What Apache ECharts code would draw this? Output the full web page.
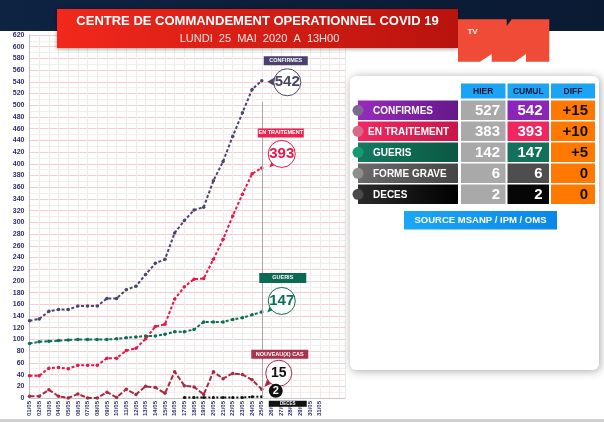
<!DOCTYPE html>
<html>
<head>
<meta charset="utf-8">
<title>COVID 19 - 25 mai 2020</title>
<script src="https://cdn.jsdelivr.net/npm/echarts@6/dist/echarts.min.js"></script>
<style>
    html, body { margin: 0; padding: 0; background: #fff; }
    #chart { width: 604px; height: 422px; }
</style>
</head>
<body>
<div id="chart"></div>
<script>
// axe des dates : 01/05 -> 31/05
const dates = [
    '01/05', '02/05', '03/05', '04/05', '05/05', '06/05', '07/05', '08/05', '09/05', '10/05',
    '11/05', '12/05', '13/05', '14/05', '15/05', '16/05', '17/05', '18/05', '19/05', '20/05',
    '21/05', '22/05', '23/05', '24/05', '25/05', '26/05', '27/05', '28/05', '29/05', '30/05', '31/05'
]

// courbes (du 01/05 au 25/05)
const confirmes = [132, 135, 148, 151, 151, 157, 157, 157, 170, 170, 185, 191, 211, 230, 237, 282, 303, 321, 326, 371, 404, 447, 487, 527, 542]
const enTraitement = [38, 38, 51, 52, 50, 56, 56, 56, 68, 68, 81, 85, 101, 122, 126, 169, 190, 203, 204, 237, 271, 311, 348, 383, 393]
const gueris = [93, 96, 97, 98, 99, 100, 100, 100, 100, 101, 103, 104, 106, 106, 109, 113, 113, 117, 130, 130, 130, 134, 137, 142, 147]
const nouveauxCas = [3, 3, 14, 3, 0, 7, 0, 0, 10, 1, 15, 6, 20, 18, 8, 45, 21, 19, 6, 45, 33, 42, 40, 31, 15]
const deces = [null, null, null, null, null, null, null, null, null, null, null, null, null, null, null, null, 1, 1, 1, 1, 1, 1, 1, 2, 2]

// tableau de droite
const tableRows = ['CONFIRMES', 'EN TRAITEMENT', 'GUERIS', 'FORME GRAVE', 'DECES']
const tableHeaders = ['HIER', 'CUMUL', 'DIFF']
const hier = [527, 383, 142, 6, 2]
const cumul = [542, 393, 147, 6, 2]

const FONT = '"Liberation Sans", Arial, sans-serif'
const NAVY = '#2d2d6b'

const toPairs = (arr) => arr.map((v, i) => (v == null ? null : [i, v])).filter(Boolean)
const lastIndex = confirmes.length - 1
const diffText = (i) => {
    const d = cumul[i] - hier[i]
    return d > 0 ? `+${d}` : `${d}`
}

/**
 * @description bulle + étiquette posées sur le dernier point d'une courbe
 */
const renderBubble = (config) => {
    const { value, color, textColor = color, name, box, bubble, tail, boxColor = color, boxSize, bubbleSize = 27, fontSize = 15 } = config
    const coord = [lastIndex, value]
    return [
        {
            coord,
            symbol: 'triangle',
            symbolSize: tail.size,
            symbolRotate: tail.rotate,
            symbolOffset: tail.offset,
            itemStyle: { color },
            label: { show: false }
        },
        {
            coord,
            symbol: 'circle',
            symbolSize: bubbleSize,
            symbolOffset: bubble,
            itemStyle: { color: '#fff', borderColor: color, borderWidth: 1 },
            label: {
                show: true, position: 'inside', formatter: `${value}`,
                color: textColor, fontSize, fontWeight: 'bold', fontFamily: FONT
            }
        },
        {
            coord,
            symbol: 'rect',
            symbolSize: boxSize,
            symbolOffset: box,
            itemStyle: { color: boxColor },
            label: {
                show: true, position: 'inside', formatter: name,
                color: '#fff', fontSize: 5.5, fontWeight: 'bold', fontFamily: FONT
            }
        }
    ]
}

const lineSeries = (name, data, color, extra = {}) => Object.assign({
    name,
    type: 'line',
    data: toPairs(data),
    symbol: 'circle',
    symbolSize: 3.5,
    showSymbol: true,
    itemStyle: { color },
    lineStyle: { color, width: 2, type: [3, 2] },
    animation: false,
    z: 3
}, extra)

// ---- tableau (graphic) ----
const labelColors = [
    ['#962bbd', '#65188a'],
    ['#f02a62', '#c8164a'],
    ['#137a5f', '#0a5843'],
    ['#6a6a6a', '#454545'],
    ['#2a2a2a', '#000000']
]
const cumulColors = ['#8b25b8', '#ef2660', '#13705a', '#4e4e4e', '#060606']
const dotColors = ['#7a6a92', '#d66a88', '#169a74', '#8e8e8e', '#4a4a4a']
const hGrad = (a, b) => new echarts.graphic.LinearGradient(0, 0, 1, 0, [
    { offset: 0, color: a }, { offset: 1, color: b }
])

const txt = (text, x, y, font, fill, align = 'center') => ({
    type: 'text',
    z: 110,
    style: {
        text, x, y, font, fill,
        textAlign: align, align,
        textVerticalAlign: 'middle', verticalAlign: 'middle'
    }
})

const buildTable = () => {
    const els = []
    // panneau
    els.push({
        type: 'rect', z: 100,
        shape: { x: 350, y: 76, width: 249, height: 294, r: 6 },
        style: { fill: '#fff', shadowBlur: 8, shadowColor: 'rgba(0,0,0,0.35)', shadowOffsetX: 1, shadowOffsetY: 1 }
    })
    const cols = [
        { x: 461, w: 44.5, right: 500 },
        { x: 507.5, w: 41.5, right: 542.5 },
        { x: 551, w: 44, right: 588 }
    ]
    tableHeaders.forEach((h, j) => {
        els.push({
            type: 'rect', z: 105,
            shape: { x: cols[j].x, y: 83.5, width: cols[j].w, height: 15 },
            style: { fill: '#1ba4f4' }
        })
        els.push(txt(h, cols[j].x + cols[j].w / 2, 91.5, `bold 8.5px ${FONT}`, '#151540'))
    })
    tableRows.forEach((row, i) => {
        const top = 100.5 + i * 21
        const mid = top + 9.8
        els.push({
            type: 'rect', z: 105,
            shape: { x: 358, y: top, width: 100, height: 19.5 },
            style: { fill: hGrad(labelColors[i][0], labelColors[i][1]) }
        })
        els.push({
            type: 'circle', z: 106,
            shape: { cx: 358, cy: mid, r: 5.5 },
            style: { fill: dotColors[i] }
        })
        els.push(txt(row, i === 1 ? 368 : 373, mid + 0.5, `bold 10px ${FONT}`, '#fff', 'left'))
        const fills = ['#a9a9a9', cumulColors[i], '#ff7800']
        const values = [`${hier[i]}`, `${cumul[i]}`, diffText(i)]
        const colors = ['#fff', '#fff', '#111']
        cols.forEach((c, j) => {
            els.push({
                type: 'rect', z: 105,
                shape: { x: c.x, y: top, width: c.w, height: 19.5 },
                style: { fill: fills[j] }
            })
            els.push(txt(values[j], c.right, mid + 0.5, `bold 15px ${FONT}`, colors[j], 'right'))
        })
    })
    // source
    els.push({
        type: 'rect', z: 105,
        shape: { x: 404, y: 211, width: 153, height: 18.5 },
        style: { fill: hGrad('#1aa8f6', '#0b86e8') }
    })
    els.push(txt('SOURCE MSANP / IPM / OMS', 480.5, 220.5, `bold 9.5px ${FONT}`, '#fff'))
    return els
}

const buildHeader = () => [
    {
        type: 'rect', z: 90,
        shape: { x: 0, y: 0, width: 604, height: 31 },
        style: { fill: hGrad('#0e2242', '#0a1a33') }
    },
    {
        type: 'rect', z: 95,
        shape: { x: 57, y: 9, width: 401, height: 39 },
        style: {
            fill: hGrad('#f2281c', '#b8130d'),
            shadowBlur: 4, shadowColor: 'rgba(0,0,0,0.4)', shadowOffsetY: 1
        }
    },
    txt('CENTRE DE COMMANDEMENT OPERATIONNEL COVID 19', 257.5, 21, `bold 13px ${FONT}`, '#fff'),
    txt('LUNDI  25  MAI  2020  A  13H00', 259.5, 38.5, `11px ${FONT}`, '#fbe3e0'),
    // logo
    {
        type: 'polygon', z: 96,
        shape: {
            points: [
                [458, 19.3], [506.7, 19.3], [506.7, 26], [511.7, 19.3], [549.3, 19.3], [549.3, 61.7],
                [526, 61.7], [526, 54], [515, 61.7], [491.7, 61.7], [491.7, 54], [480, 61.7], [458, 61.7]
            ]
        },
        style: { fill: '#ef4b37' }
    },
    txt('TV', 472.5, 31.5, `bold 8px ${FONT}`, '#fff'),
    {
        type: 'rect', z: 90,
        shape: { x: 0, y: 419, width: 604, height: 3 },
        style: { fill: '#cfcfcf' }
    }
]

const chart = echarts.init(document.getElementById('chart'))

const option = {
    backgroundColor: '#ffffff',
    animation: false,
    grid: { left: 29.5, right: 259, top: 35, bottom: 24 },
    xAxis: {
        type: 'value',
        min: 0,
        max: 32.6,
        interval: 1,
        axisLine: { show: true, lineStyle: { color: '#c8c8c8' } },
        axisTick: { show: false },
        splitLine: { show: true, lineStyle: { color: '#eeeaea', width: 1 } },
        axisLabel: {
            rotate: 90,
            margin: 3,
            fontSize: 6,
            fontWeight: 'bold',
            fontFamily: FONT,
            color: NAVY,
            showMaxLabel: false,
            formatter: (v) => dates[v] || ''
        }
    },
    yAxis: {
        type: 'value',
        min: 0,
        max: 620,
        interval: 20,
        axisLine: { show: true, lineStyle: { color: '#bdbdbd' } },
        axisTick: { show: false },
        splitLine: { lineStyle: { color: '#f5cdcd', width: 1 } },
        minorTick: { show: false, splitNumber: 2 },
        minorSplitLine: { show: true, lineStyle: { color: '#f6eded' } },
        axisLabel: {
            margin: 5,
            fontSize: 7,
            fontWeight: 'bold',
            fontFamily: FONT,
            color: NAVY
        }
    },
    series: [
        lineSeries('CONFIRMES', confirmes, '#4b4566', {
            markLine: {
                silent: true,
                symbol: 'none',
                label: { show: false },
                lineStyle: { color: '#a8a8a8', width: 1, type: 'solid' },
                data: [[{ coord: [lastIndex, 506] }, { coord: [lastIndex, 0] }]]
            },
            markPoint: {
                silent: true,
                data: renderBubble({
                    value: confirmes[lastIndex], color: '#4b4566', name: 'CONFIRMES',
                    boxColor: '#4a3f6e', boxSize: [44, 9], box: [24, -20], bubble: [25.5, 1.6],
                    tail: { size: [8, 7], rotate: 90, offset: [9, 1] }
                })
            }
        }),
        lineSeries('EN TRAITEMENT', enTraitement, '#e8174a', {
            markPoint: {
                silent: true,
                data: renderBubble({
                    value: enTraitement[lastIndex], color: '#e8174a', name: 'EN TRAITEMENT',
                    boxColor: '#e8244f', boxSize: [46, 9], box: [19, -35], bubble: [20, -14],
                    tail: { size: [6, 7], rotate: 135, offset: [10, -3] }
                })
            }
        }),
        lineSeries('GUERIS', gueris, '#0a7054', {
            markPoint: {
                silent: true,
                data: renderBubble({
                    value: gueris[lastIndex], color: '#0a7054', name: 'GUERIS',
                    boxColor: '#0c6a52', boxSize: [47, 10], box: [21, -34], bubble: [20, -11],
                    tail: { size: [6, 7], rotate: 135, offset: [8, -2] }
                })
            }
        }),
        lineSeries('NOUVEAU(X) CAS', nouveauxCas, '#a52a45', {
            lineStyle: { color: '#a52a45', width: 2, type: [5, 2] },
            markPoint: {
                silent: true,
                data: renderBubble({
                    value: nouveauxCas[lastIndex], color: '#a52a45', textColor: '#111', name: 'NOUVEAU(X) CAS',
                    boxColor: '#a8334a', boxSize: [57, 9], box: [18, -35], bubble: [17, -16], bubbleSize: 26,
                    fontSize: 14, tail: { size: [6, 7], rotate: 135, offset: [5, -5] }
                })
            }
        }),
        lineSeries('DECES', deces, '#111111', {
            symbolSize: 3,
            lineStyle: { color: '#111111', width: 2, type: 'dotted' },
            markPoint: {
                silent: true,
                data: [
                    {
                        coord: [lastIndex, deces[lastIndex]],
                        symbol: 'circle', symbolSize: 14, symbolOffset: [14, -6],
                        itemStyle: { color: '#111' },
                        label: {
                            show: true, position: 'inside', formatter: `${deces[lastIndex]}`,
                            color: '#fff', fontSize: 11, fontWeight: 'bold', fontFamily: FONT
                        }
                    },
                    {
                        coord: [lastIndex, deces[lastIndex]],
                        symbol: 'rect', symbolSize: [38, 6], symbolOffset: [26, 7],
                        itemStyle: { color: '#111' },
                        label: {
                            show: true, position: 'inside', formatter: 'DECES',
                            color: '#fff', fontSize: 4.5, fontWeight: 'bold', fontFamily: FONT
                        }
                    }
                ]
            }
        })
    ],
    graphic: { elements: buildHeader().concat(buildTable()) }
}

chart.setOption(option)
window.addEventListener('resize', () => {
    chart.resize()
})
</script>
</body>
</html>
